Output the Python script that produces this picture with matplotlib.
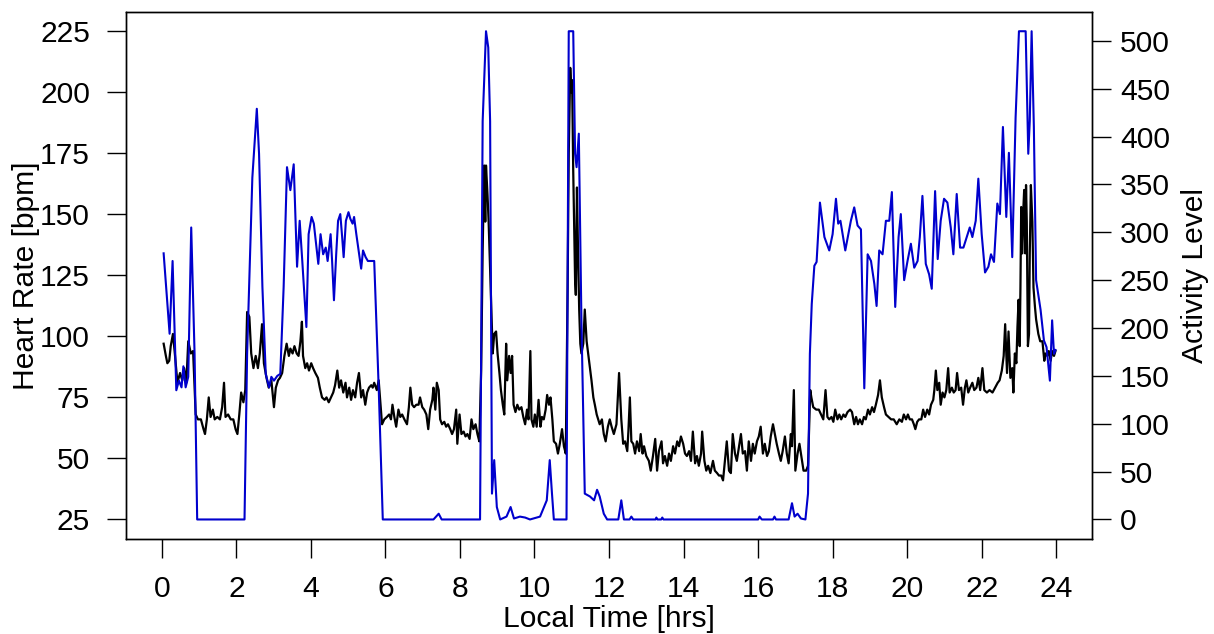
import matplotlib.pyplot as plt

plt.rcParams['font.family'] = ['Liberation Sans', 'DejaVu Sans']

# heart rate (black)
hr_t = [0.05, 0.11, 0.15, 0.20, 0.24, 0.30, 0.35, 0.42, 0.49, 0.55, 0.60, 0.66, 0.71, 0.78, 0.84,
        0.91, 0.97, 1.05, 1.12, 1.16, 1.21, 1.26, 1.31, 1.37, 1.42, 1.49, 1.56, 1.62, 1.67, 1.71,
        1.78, 1.85, 1.92, 1.98, 2.03, 2.08, 2.13, 2.19, 2.24, 2.29, 2.35, 2.40, 2.46, 2.52, 2.58,
        2.63, 2.69, 2.74, 2.81, 2.87, 2.94, 3.01, 3.06, 3.12, 3.17, 3.23, 3.29, 3.35, 3.41, 3.45,
        3.51, 3.56, 3.62, 3.67, 3.72, 3.76, 3.79, 3.85, 3.90, 3.95, 4.01, 4.06, 4.12, 4.19, 4.24,
        4.30, 4.37, 4.42, 4.48, 4.54, 4.60, 4.65, 4.71, 4.76, 4.81, 4.87, 4.93, 4.97, 5.03, 5.08,
        5.13, 5.19, 5.24, 5.29, 5.35, 5.40, 5.46, 5.51, 5.56, 5.62, 5.66, 5.70, 5.77, 5.82, 5.91,
        5.97, 6.04, 6.10, 6.15, 6.19, 6.24, 6.29, 6.35, 6.40, 6.45, 6.51, 6.58, 6.63, 6.67, 6.72,
        6.77, 6.83, 6.89, 6.93, 6.99, 7.04, 7.10, 7.15, 7.20, 7.26, 7.29, 7.34, 7.38, 7.43, 7.47,
        7.52, 7.58, 7.63, 7.68, 7.74, 7.79, 7.84, 7.90, 7.93, 7.99, 8.04, 8.10, 8.15, 8.20, 8.26,
        8.31, 8.36, 8.42, 8.47, 8.52, 8.57, 8.61, 8.65, 8.68, 8.70, 8.74, 8.77, 8.81, 8.84, 8.88,
        8.92, 8.97, 9.01, 9.06, 9.10, 9.15, 9.19, 9.24, 9.27, 9.32, 9.36, 9.40, 9.44, 9.49, 9.54,
        9.59, 9.65, 9.70, 9.75, 9.80, 9.84, 9.89, 9.92, 9.97, 10.01, 10.06, 10.11, 10.16, 10.20, 10.25,
        10.30, 10.34, 10.39, 10.43, 10.48, 10.52, 10.58, 10.63, 10.68, 10.74, 10.79, 10.84, 10.89, 10.92, 10.96,
        10.99, 11.01, 11.04, 11.07, 11.09, 11.11, 11.14, 11.17, 11.20, 11.23, 11.26, 11.31, 11.35, 11.40, 11.44,
        11.49, 11.53, 11.58, 11.62, 11.67, 11.71, 11.75, 11.81, 11.86, 11.91, 11.97, 12.02, 12.07, 12.13, 12.20,
        12.27, 12.33, 12.38, 12.43, 12.49, 12.52, 12.56, 12.60, 12.65, 12.70, 12.75, 12.81, 12.85, 12.90, 12.94,
        13.00, 13.07, 13.12, 13.18, 13.24, 13.29, 13.34, 13.41, 13.45, 13.50, 13.56, 13.61, 13.66, 13.72, 13.77,
        13.83, 13.88, 13.93, 13.99, 14.04, 14.09, 14.15, 14.20, 14.25, 14.31, 14.36, 14.41, 14.47, 14.50, 14.56,
        14.61, 14.66, 14.72, 14.79, 14.84, 14.90, 14.95, 15.01, 15.06, 15.11, 15.16, 15.22, 15.27, 15.32, 15.38,
        15.43, 15.49, 15.54, 15.59, 15.65, 15.70, 15.75, 15.81, 15.86, 15.91, 15.97, 16.02, 16.07, 16.13, 16.18,
        16.24, 16.29, 16.34, 16.40, 16.45, 16.50, 16.56, 16.61, 16.66, 16.72, 16.77, 16.82, 16.88, 16.91, 16.96,
        17.00, 17.06, 17.11, 17.16, 17.22, 17.29, 17.34, 17.40, 17.43, 17.48, 17.56, 17.63, 17.69, 17.75, 17.81,
        17.86, 17.91, 17.97, 18.02, 18.07, 18.13, 18.18, 18.23, 18.29, 18.34, 18.40, 18.47, 18.52, 18.58, 18.63,
        18.68, 18.73, 18.79, 18.84, 18.89, 18.95, 19.00, 19.06, 19.11, 19.16, 19.22, 19.27, 19.32, 19.38, 19.43,
        19.50, 19.57, 19.64, 19.72, 19.79, 19.86, 19.91, 19.97, 20.02, 20.07, 20.13, 20.18, 20.22, 20.27, 20.32,
        20.38, 20.43, 20.48, 20.54, 20.59, 20.64, 20.70, 20.73, 20.77, 20.81, 20.86, 20.90, 20.95, 21.00, 21.05,
        21.10, 21.14, 21.20, 21.25, 21.30, 21.34, 21.39, 21.45, 21.50, 21.55, 21.59, 21.64, 21.69, 21.75, 21.80,
        21.86, 21.91, 21.96, 22.02, 22.07, 22.14, 22.21, 22.29, 22.36, 22.43, 22.48, 22.54, 22.59, 22.63, 22.68,
        22.72, 22.77, 22.82, 22.85, 22.89, 22.93, 22.96, 22.99, 23.02, 23.04, 23.06, 23.09, 23.12, 23.14, 23.17,
        23.19, 23.21, 23.24, 23.27, 23.29, 23.32, 23.36, 23.39, 23.43, 23.46, 23.52, 23.57, 23.63, 23.68, 23.71,
        23.76, 23.80, 23.85, 23.89, 23.94, 23.98]
hr_bpm = [97, 92, 89, 90, 96, 101, 93, 81, 85, 82, 87, 81, 98, 93, 94,
          68, 66, 66, 62, 60, 66, 75, 67, 70, 66, 67, 66, 71, 81, 67,
          68, 66, 66, 62, 60, 68, 77, 73, 78, 110, 108, 93, 87, 92, 87,
          93, 105, 89, 83, 79, 82, 71, 79, 82, 83, 85, 92, 97, 92, 95,
          93, 96, 93, 92, 98, 106, 92, 87, 89, 86, 89, 87, 85, 83, 79,
          75, 74, 75, 73, 75, 77, 80, 86, 79, 82, 77, 81, 75, 79, 74,
          78, 75, 81, 85, 75, 78, 72, 77, 79, 80, 79, 81, 78, 82, 64,
          66, 67, 68, 66, 72, 67, 63, 70, 67, 68, 66, 64, 71, 79, 72,
          71, 72, 72, 75, 71, 70, 68, 62, 70, 74, 79, 70, 81, 78, 66,
          64, 65, 63, 64, 62, 60, 62, 70, 56, 68, 60, 61, 59, 60, 58,
          66, 62, 64, 60, 57, 86, 135, 170, 147, 170, 158, 147, 127, 113, 93,
          101, 102, 93, 85, 78, 72, 68, 97, 82, 92, 85, 92, 72, 69, 72,
          70, 71, 67, 64, 70, 66, 94, 66, 63, 68, 63, 74, 63, 67, 66,
          70, 76, 72, 75, 66, 57, 56, 52, 56, 62, 55, 52, 120, 175, 210,
          200, 205, 168, 141, 123, 117, 161, 134, 111, 97, 93, 97, 111, 98, 93,
          87, 82, 75, 72, 68, 66, 64, 66, 60, 57, 63, 66, 63, 60, 64,
          85, 66, 56, 57, 53, 61, 75, 57, 56, 52, 57, 53, 60, 52, 55,
          51, 49, 45, 51, 58, 45, 53, 57, 48, 51, 47, 52, 49, 55, 52,
          57, 55, 59, 56, 52, 51, 53, 49, 61, 48, 51, 47, 52, 61, 49,
          45, 47, 44, 49, 45, 44, 43, 43, 41, 49, 57, 45, 44, 60, 52,
          49, 55, 60, 52, 53, 45, 57, 49, 56, 52, 57, 59, 63, 52, 56,
          51, 53, 59, 64, 60, 56, 52, 49, 53, 59, 52, 48, 60, 55, 78,
          45, 52, 56, 51, 45, 45, 47, 78, 75, 71, 70, 70, 68, 66, 78,
          67, 66, 67, 65, 70, 66, 68, 66, 68, 67, 69, 70, 69, 64, 67,
          64, 66, 64, 67, 66, 70, 68, 71, 69, 72, 76, 82, 75, 71, 68,
          67, 66, 66, 64, 66, 65, 68, 66, 68, 66, 66, 64, 62, 65, 66,
          66, 70, 67, 70, 68, 72, 74, 78, 86, 78, 81, 72, 77, 75, 78,
          87, 77, 79, 77, 78, 85, 78, 79, 72, 79, 82, 77, 79, 81, 78,
          79, 83, 78, 87, 78, 77, 78, 77, 79, 81, 82, 86, 92, 105, 85,
          102, 83, 87, 77, 93, 89, 104, 115, 96, 120, 153, 134, 153, 160, 134,
          162, 147, 96, 101, 134, 162, 147, 120, 112, 107, 101, 98, 98, 90, 93,
          92, 94, 90, 94, 92, 94]

# activity level (blue)
act_t = [0.05, 0.21, 0.29, 0.39, 0.46, 0.53, 0.58, 0.64, 0.71, 0.79, 0.88, 0.95, 2.22, 2.29, 2.43,
         2.55, 2.61, 2.70, 2.79, 2.88, 2.94, 3.01, 3.10, 3.18, 3.27, 3.36, 3.45, 3.54, 3.63, 3.70,
         3.77, 3.83, 3.88, 3.94, 4.02, 4.08, 4.15, 4.20, 4.26, 4.33, 4.40, 4.45, 4.53, 4.57, 4.62,
         4.68, 4.73, 4.79, 4.84, 4.88, 4.94, 5.01, 5.06, 5.12, 5.16, 5.22, 5.28, 5.35, 5.40, 5.47,
         5.53, 5.70, 5.82, 5.93, 7.29, 7.43, 7.51, 8.54, 8.61, 8.70, 8.76, 8.81, 8.86, 8.92, 8.99,
         9.08, 9.25, 9.36, 9.45, 9.61, 9.75, 9.88, 10.15, 10.33, 10.41, 10.47, 10.52, 10.86, 10.92, 11.04,
         11.09, 11.13, 11.19, 11.26, 11.35, 11.49, 11.60, 11.68, 11.75, 11.86, 11.95, 12.25, 12.33, 12.40, 12.55,
         12.60, 12.65, 13.25, 13.27, 13.30, 13.40, 13.43, 13.46, 16.00, 16.04, 16.10, 16.40, 16.44, 16.48, 16.82,
         16.91, 16.98, 17.06, 17.15, 17.27, 17.34, 17.39, 17.44, 17.51, 17.57, 17.66, 17.78, 17.91, 18.00, 18.09,
         18.15, 18.21, 18.27, 18.34, 18.49, 18.58, 18.67, 18.76, 18.85, 18.94, 19.03, 19.12, 19.18, 19.25, 19.34,
         19.43, 19.52, 19.59, 19.68, 19.77, 19.83, 19.92, 20.01, 20.10, 20.19, 20.28, 20.34, 20.41, 20.50, 20.59,
         20.66, 20.75, 20.82, 20.90, 20.99, 21.08, 21.17, 21.24, 21.33, 21.42, 21.51, 21.60, 21.68, 21.75, 21.84,
         21.91, 22.00, 22.09, 22.18, 22.25, 22.33, 22.42, 22.49, 22.57, 22.66, 22.73, 22.82, 22.91, 23.00, 23.18,
         23.25, 23.29, 23.34, 23.40, 23.46, 23.58, 23.67, 23.74, 23.83, 23.89, 23.94, 23.98]
act_lvl = [278, 194, 270, 135, 145, 138, 160, 138, 149, 305, 173, 0, 0, 173, 357,
           429, 382, 243, 152, 138, 149, 145, 150, 152, 243, 368, 344, 371, 264, 312,
           270, 232, 201, 298, 316, 309, 284, 267, 298, 277, 284, 270, 298, 270, 229,
           277, 312, 319, 295, 274, 312, 321, 314, 309, 316, 298, 281, 262, 281, 274,
           270, 270, 138, 0, 0, 6, 0, 0, 416, 510, 493, 416, 27, 62, 13,
           0, 3, 13, 1, 3, 2, 0, 3, 20, 62, 27, 0, 0, 510, 510,
           382, 368, 403, 208, 27, 24, 20, 31, 24, 6, 0, 0, 20, 0, 0,
           3, 0, 0, 2, 0, 0, 2, 0, 0, 3, 0, 0, 3, 0, 0,
           17, 3, 6, 1, 0, 27, 173, 225, 265, 269, 331, 295, 281, 298, 335,
           309, 312, 298, 281, 312, 326, 307, 303, 137, 277, 270, 246, 223, 281, 277,
           312, 312, 342, 222, 295, 319, 250, 270, 288, 263, 270, 295, 338, 267, 256,
           241, 343, 272, 312, 335, 331, 305, 277, 340, 284, 284, 295, 305, 295, 312,
           356, 298, 258, 264, 277, 269, 330, 319, 410, 316, 383, 274, 420, 510, 510,
           382, 416, 510, 410, 250, 219, 187, 180, 145, 208, 173, 177]

hour_ticks = list(range(0, 25, 2))
bpm_ticks = list(range(25, 226, 25))
act_ticks = list(range(0, 501, 50))

fig = plt.figure(figsize=(12.14, 6.34), dpi=100)
ax1 = fig.add_axes([126 / 1214, 1 - 539 / 634, 966 / 1214, 527.3 / 634])
ax1.plot(hr_t, hr_bpm, color='black', lw=1.6)
ax1.set_xlim(-0.96, 24.96)
ax1.set_ylim(17, 233)
ax1.set_xticks(hour_ticks)
ax1.set_yticks(bpm_ticks)
ax1.tick_params(axis='both', direction='out', length=14, width=1.0, labelsize=21.6, pad=12)
ax1.set_xlabel('Local Time [hrs]', fontsize=21.6, va='baseline')
ax1.xaxis.set_label_coords(0.5, -0.167)
ax1.set_ylabel('Heart Rate [bpm]', fontsize=21.6, va='baseline')
ax1.yaxis.set_label_coords(-0.095, 0.5)

ax2 = ax1.twinx()
ax2.plot(act_t, act_lvl, color='#0000CD', lw=1.5)
ax2.set_ylim(-20.4, 530.4)
ax2.set_yticks(act_ticks)
ax2.tick_params(axis='y', direction='out', length=14, width=1.0, labelsize=21.6, pad=6)
ax2.set_ylabel('Activity Level', fontsize=21.6, va='baseline')
ax2.yaxis.set_label_coords(1.115, 0.5)

for ax in (ax1, ax2):
    for s in ax.spines.values():
        s.set_linewidth(1.0)

fig.savefig('out.png', dpi=100)
